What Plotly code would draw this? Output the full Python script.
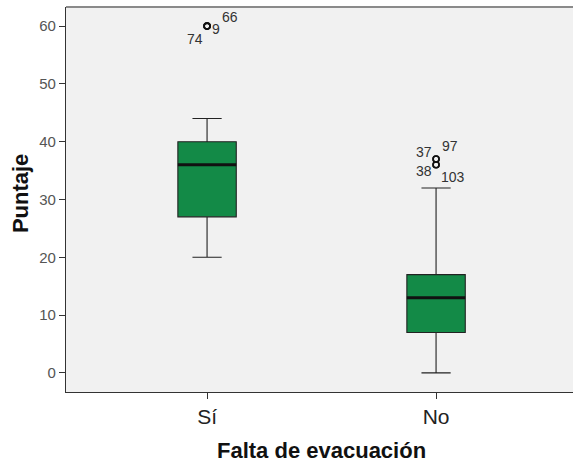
import plotly.graph_objects as go

# Summary statistics of "Puntaje" by group
groups = ["Sí", "No"]
q1 = [27, 7]
medians = [36, 13]
q3 = [40, 17]
lower_whisker = [20, 0]
upper_whisker = [44, 32]

# Outlying cases (group index, value, case id)
outlier_group = [0, 0, 0, 1, 1, 1, 1]
outlier_value = [60, 60, 60, 37, 37, 36, 36]
outlier_case = ["74", "9", "66", "37", "97", "38", "103"]

# label offsets (px) around each outlier marker
label_dx = [-12, 9, 23, -12, 14, -12, 17]
label_dy = [-13, -3, 9, 7, 13, -6, -12]

BOX_W = 0.255
GREEN = "#138a47"
FONT = "Liberation Sans, Arial"

fig = go.Figure()

xs = list(range(len(groups)))
fig.add_trace(go.Box(
    x=xs, q1=q1, median=medians, q3=q3,
    lowerfence=lower_whisker, upperfence=upper_whisker,
    width=BOX_W, whiskerwidth=0.5,
    fillcolor=GREEN,
    line=dict(color="#222222", width=1.1),
    boxpoints=False, showlegend=False, hoverinfo="skip",
))

# thick median bars
for i, m in enumerate(medians):
    fig.add_trace(go.Scatter(
        x=[i - BOX_W / 2, i + BOX_W / 2], y=[m, m], mode="lines",
        line=dict(color="#111111", width=3), showlegend=False, hoverinfo="skip",
    ))

# outlier circles
fig.add_trace(go.Scatter(
    x=outlier_group, y=outlier_value, mode="markers",
    marker=dict(symbol="circle-open", size=6, color="#111111", line=dict(width=1.6)),
    showlegend=False, hoverinfo="skip",
))

for g, v, c, dx, dy in zip(outlier_group, outlier_value, outlier_case, label_dx, label_dy):
    fig.add_annotation(
        x=g, y=v, text=c, showarrow=False, xshift=dx, yshift=dy,
        font=dict(family=FONT, size=14, color="#333333"),
    )

# axis titles
fig.add_annotation(
    xref="paper", yref="paper", x=0, y=0.514, xshift=-46, text="<b>Puntaje</b>",
    textangle=-90, showarrow=False, xanchor="center", yanchor="middle",
    font=dict(family=FONT, size=22, color="#111111"),
)
fig.add_annotation(
    xref="paper", yref="paper", x=0.5, y=0, xshift=2, yshift=-58,
    text="<b>Falta de evacuación</b>", showarrow=False,
    xanchor="center", yanchor="middle",
    font=dict(family=FONT, size=22, color="#111111"),
)

fig.update_layout(
    width=573, height=463,
    margin=dict(l=66, r=0, t=7, b=71),
    paper_bgcolor="white", plot_bgcolor="#f1f1f1",
    font=dict(family=FONT, color="#222222"),
    xaxis=dict(
        range=[-0.616, 1.598], tickvals=xs, ticktext=groups,
        showgrid=False, zeroline=False, showline=True, linecolor="#333333", linewidth=1.3,
        ticks="outside", ticklen=6, tickcolor="#333333",
        tickfont=dict(size=21, color="#222222"),
    ),
    yaxis=dict(
        range=[-3.3, 63.3], tickvals=[0, 10, 20, 30, 40, 50, 60],
        showgrid=False, zeroline=False, showline=True, linecolor="#333333", linewidth=1.3,
        ticks="outside", ticklen=6, tickcolor="#333333",
        tickfont=dict(size=15, color="#555555"),
    ),
)

# top frame line
fig.add_shape(type="line", xref="paper", yref="paper", x0=0, x1=1, y0=1, y1=1,
              line=dict(color="#8a8a8a", width=2))

fig.write_html("out.html")
